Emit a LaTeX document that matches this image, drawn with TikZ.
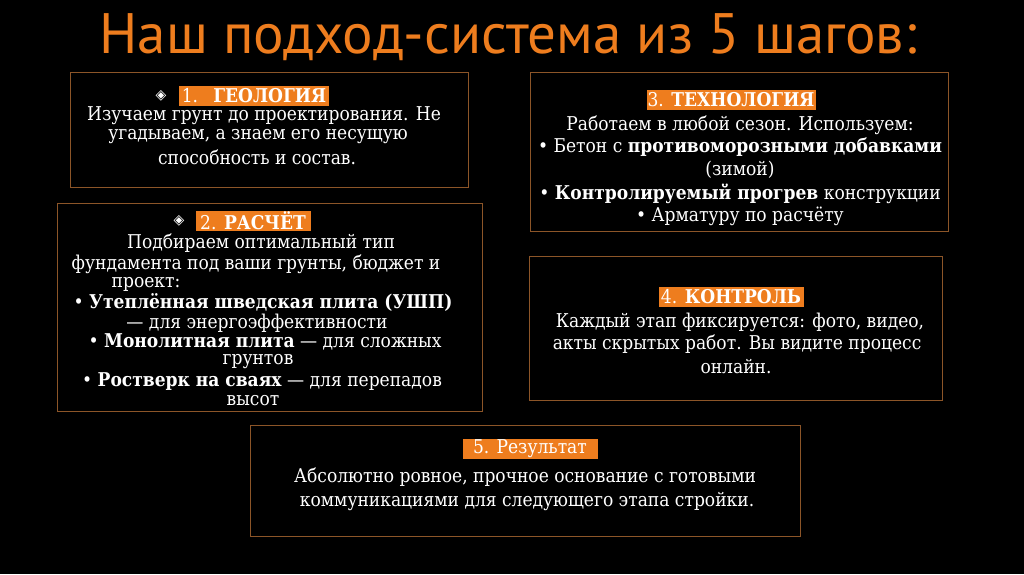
\documentclass[tikz,border=0pt]{standalone}
\usepackage{fontspec}
\setmainfont{DejaVu Serif Condensed}
\newfontfamily\titlefont{PT Sans}
\newfontfamily\symfont{DejaVu Sans}
\definecolor{brd}{RGB}{140,85,40}
\definecolor{org}{RGB}{238,125,30}
\begin{document}
\begin{tikzpicture}[x=1pt,y=-1pt,
  box/.style={draw=brd,line width=1pt},
  ln/.style={text=white,font=\fontsize{19}{21}\selectfont,inner sep=0pt,anchor=center},
  hl/.style={fill=org,text=white,font=\fontsize{19}{21}\selectfont,inner sep=1pt,anchor=center,minimum height=20pt},
  sym/.style={text=white,font=\symfont\fontsize{14}{16}\selectfont,inner sep=0pt}]
\fill[black] (0,0) rectangle (1024,574);
\useasboundingbox (0,0) rectangle (1024,574);
\node[text=org,font=\titlefont\fontsize{57}{62}\selectfont] (title) at (508,37) {Наш подход-система из 5 шагов:};
% Box 1
\draw[box] (70,72) rectangle (468,187);
\node[sym] (s1) at (161,96) {◈};
\node[hl,minimum width=150pt] (h1) at (254,96) {1.\hspace{0.8em}\textbf{ГЕОЛОГИЯ}\hspace{0.4em}};
\node[ln] (a1) at (264,116) {Изучаем грунт до проектирования. Не};
\node[ln] (a2) at (258,137) {угадываем, а знаем его несущую};
\node[ln] (a3) at (257,157) {способность и состав.};
% Box 2
\draw[box] (57,203) rectangle (482,411);
\node[sym] (s2) at (179,221) {◈};
\node[hl,minimum width=115pt] (h2) at (253,221) {2.\hspace{0.4em}\textbf{РАСЧЁТ}\hspace{0.6em}};
\node[ln] (b1) at (261,243) {Подбираем оптимальный тип};
\node[ln] (b2) at (256,264) {фундамента под ваши грунты, бюджет и};
\node[ln] (b3) at (146,284) {проект:};
\node[ln] (b4) at (263,302) {• \textbf{Утеплённая шведская плита (УШП)}};
\node[ln] (b5) at (257,323) {— для энергоэффективности};
\node[ln] (b6) at (265,342) {• \textbf{Монолитная плита} — для сложных};
\node[ln] (b7) at (258,362) {грунтов};
\node[ln] (b8) at (262,382) {• \textbf{Ростверк на сваях} — для перепадов};
\node[ln] (b9) at (253,401) {высот};
% Box 3
\draw[box] (530,72) rectangle (948,231);
\node[hl,minimum width=165pt] (h3) at (731,100) {3.\hspace{0.4em}\textbf{ТЕХНОЛОГИЯ}\hspace{0.6em}};
\node[ln] (c1) at (740,125) {Работаем в любой сезон. Используем:};
\node[ln] (c2) at (740,147) {• Бетон с \textbf{противоморозными добавками}};
\node[ln] (c3) at (740,170) {(зимой)};
\node[ln] (c4) at (740,194) {• \textbf{Контролируемый прогрев} конструкции};
\node[ln] (c5) at (740,216) {• Арматуру по расчёту};
\node[hl,minimum width=145pt] (h4) at (731,297) {4.\hspace{0.4em}\textbf{КОНТРОЛЬ}\hspace{0.6em}};
% Box 4
\draw[box] (529,256) rectangle (942,400);
\node[ln] (d1) at (740,322) {Каждый этап фиксируется: фото, видео,};
\node[ln] (d2) at (737,344) {акты скрытых работ. Вы видите процесс};
\node[ln] (d3) at (736,367) {онлайн.};
% Box 5
\draw[box] (250,425) rectangle (800,536);
\node[hl,minimum width=135pt] (h5) at (530,449) {5. Результат\hspace{1em}};
\node[ln] (e1) at (525,477) {Абсолютно ровное, прочное основание с готовыми};
\node[ln] (e2) at (527,502) {коммуникациями для следующего этапа стройки.};
\end{tikzpicture}
\end{document}
